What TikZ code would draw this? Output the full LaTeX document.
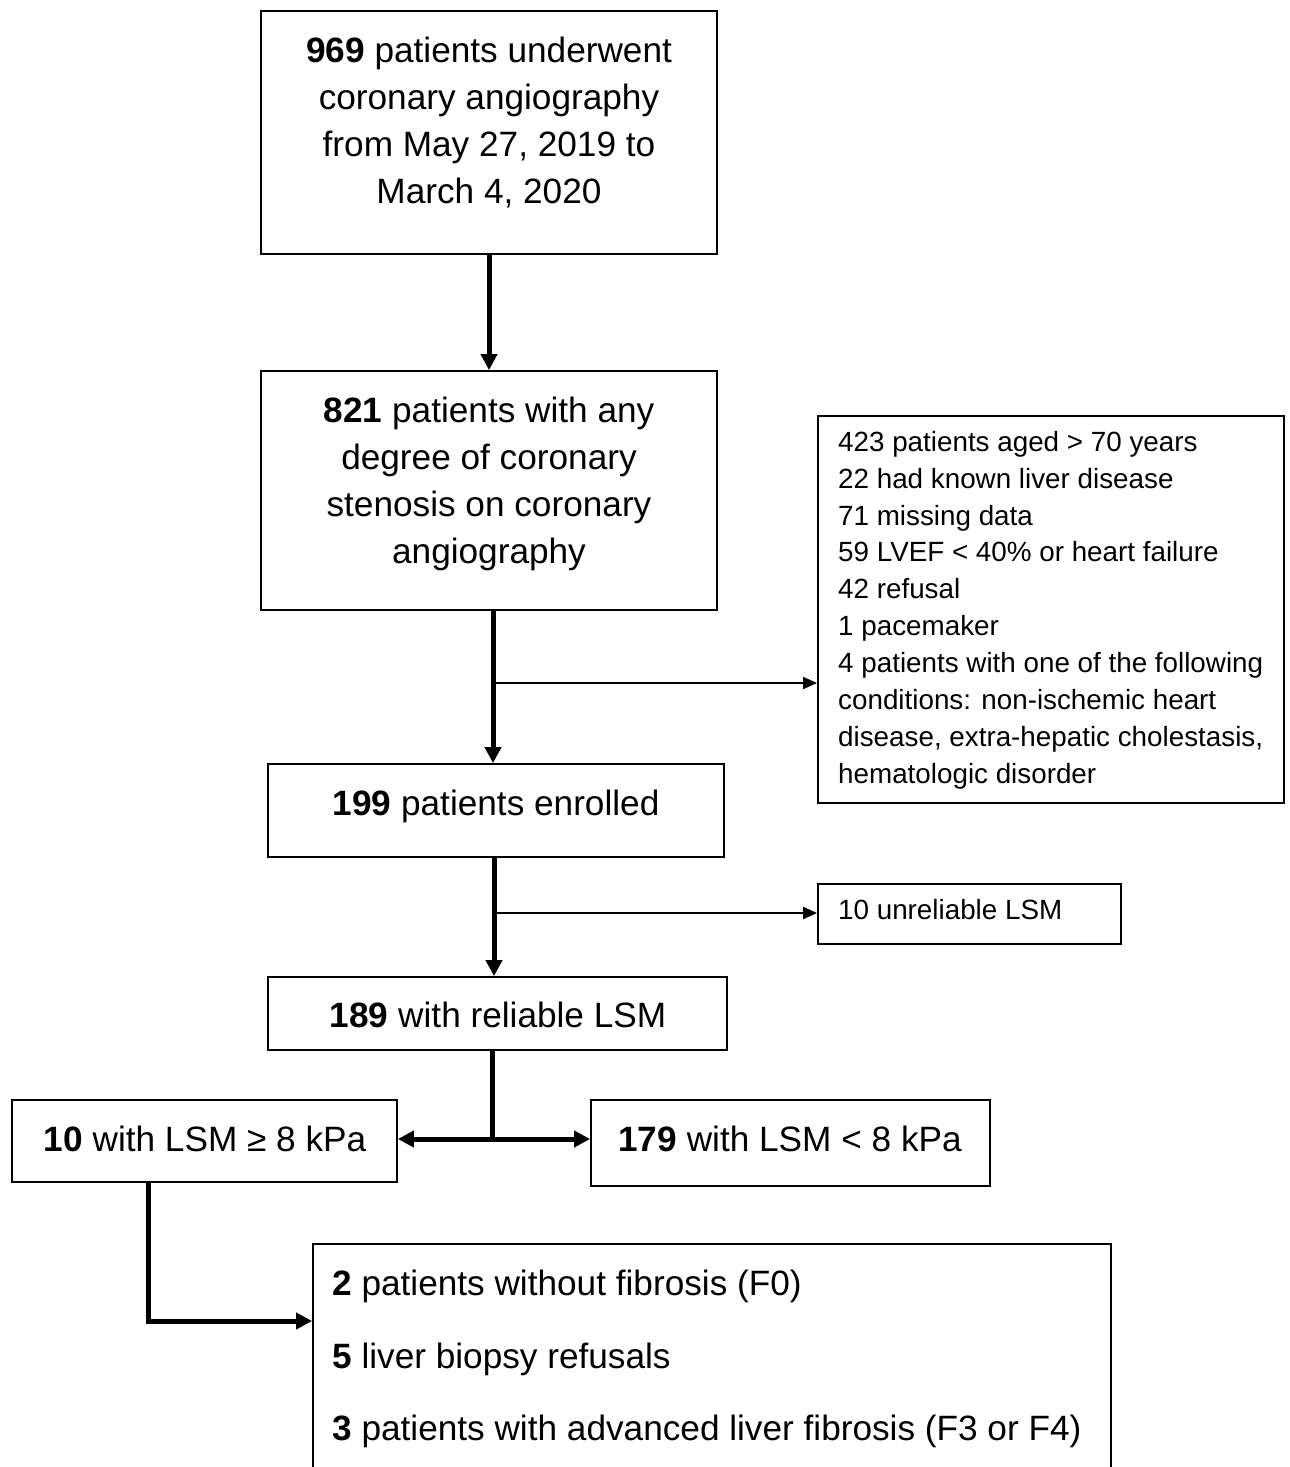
\documentclass[tikz,border=0pt]{standalone}
\usepackage{fontspec}
\setmainfont{Liberation Sans}
\usetikzlibrary{arrows.meta,calc}
\begin{document}
\begin{tikzpicture}[x=1pt,y=-1pt,
  boxx/.style={draw,line width=1.8pt,inner sep=0pt,rectangle},
  txt/.style={inner sep=0pt},
  big/.style={font=\fontsize{35.2}{47}\selectfont},
  small/.style={font=\fontsize{27.8}{36.9}\selectfont},
  thickarr/.style={line width=5pt,-{Triangle[length=16pt,width=16pt]}},
  thinarr/.style={line width=1.8pt,-{Triangle[length=14pt,width=12pt]}},
  dblarr/.style={line width=5pt,{Triangle[length=16pt,width=16pt]}-{Triangle[length=16pt,width=16pt]}}
]
\useasboundingbox (0,0) rectangle (1290,1467);
\fill[white] (0,0) rectangle (1290,1467);
\clip (0,0) rectangle (1290,1467);

% boxes
\node[boxx,minimum width=456pt,minimum height=243pt] (box1) at (489,132.5) {};
\node[boxx,minimum width=456pt,minimum height=239pt] (box2) at (489,490.5) {};
\node[boxx,minimum width=466pt,minimum height=387pt] (excl) at (1051,609.5) {};
\node[boxx,minimum width=456pt,minimum height=93pt] (box3) at (496,810.5) {};
\node[boxx,minimum width=303pt,minimum height=60pt] (unrel) at (969.5,914) {};
\node[boxx,minimum width=459pt,minimum height=73pt] (box4) at (497.5,1013.5) {};
\node[boxx,minimum width=385pt,minimum height=82pt] (box5) at (204.5,1141) {};
\node[boxx,minimum width=399pt,minimum height=86pt] (box6) at (790.5,1143) {};
\node[boxx,minimum width=798pt,minimum height=260pt] (box7) at (712,1374) {};

% texts
\node[txt,big,align=center,anchor=north] (t1) at (489,35.5)
  {\rule{0pt}{27pt}\textbf{969} patients underwent\\coronary angiography\\from May 27, 2019 to\\March 4, 2020};
\node[txt,big,align=center,anchor=north] (t2) at (489,395.5)
  {\rule{0pt}{27pt}\textbf{821} patients with any\\degree of coronary\\stenosis on coronary\\angiography};
\node[txt,small,align=left,anchor=north west] (t3) at (838,430)
  {\rule{0pt}{21pt}423 patients aged > 70 years\\22 had known liver disease\\71 missing data\\59 LVEF < 40\% or heart failure\\42 refusal\\1 pacemaker\\4 patients with one of the following\\conditions: non-ischemic heart\\disease, extra-hepatic cholestasis,\\hematologic disorder};
\node[txt,big,anchor=base] (t4) at (496,815.5) {\textbf{199} patients enrolled};
\node[txt,small,anchor=base west] (t5) at (838,919) {10 unreliable LSM};
\node[txt,big,anchor=base] (t6) at (498,1027.5) {\textbf{189} with reliable LSM};
\node[txt,big,anchor=base] (t7) at (205,1151.5) {\textbf{10} with LSM ≥ 8 kPa};
\node[txt,big,anchor=base] (t8) at (790,1151.5) {\textbf{179} with LSM < 8 kPa};
\node[txt,align=left,anchor=north west,font=\fontsize{35.2}{72.5}\selectfont] (t9) at (332,1268.5)
  {\rule{0pt}{27pt}\textbf{2} patients without fibrosis (F0)\\\textbf{5} liver biopsy refusals\\\textbf{3} patients with advanced liver fibrosis (F3 or F4)};

% connectors
\draw[thickarr] (box1.south) -- (box2.north);
\coordinate (b1) at (493,683);
\draw[thickarr] (b1 |- box2.south) -- (b1 |- box3.north);
\draw[thinarr] (b1) -- (b1 -| excl.west);
\coordinate (b2) at (494,913);
\draw[thickarr] (b2 |- box3.south) -- (b2 |- box4.north);
\draw[thinarr] (b2) -- (b2 -| unrel.west);
\coordinate (j) at (492,1139);
\draw[line width=5pt] (j |- box4.south) -- (j);
\draw[dblarr] (j -| box5.east) -- (j -| box6.west);
\coordinate (c1) at (148,1321);
\draw[line width=5pt,-{Triangle[length=16pt,width=16pt]}] (c1 |- box5.south) -- (c1) -- (c1 -| box7.west);
\end{tikzpicture}
\end{document}
